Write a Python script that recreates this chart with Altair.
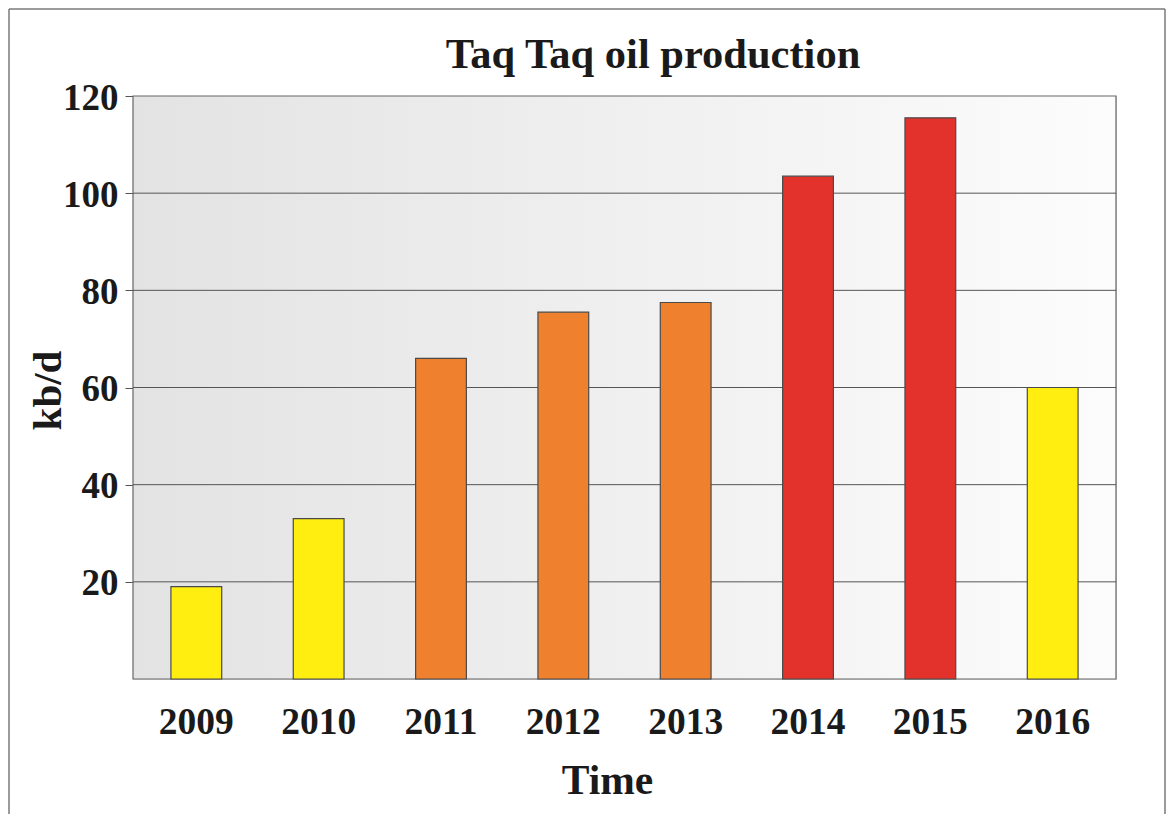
import altair as alt
import pandas as pd

years = ["2009", "2010", "2011", "2012", "2013", "2014", "2015", "2016"]
production = [19, 33, 66, 75.5, 77.5, 103.5, 115.5, 60]
tier = ["low", "low", "mid", "mid", "mid", "high", "high", "low"]
y_ticks = [20, 40, 60, 80, 100, 120]
grid_values = [20, 40, 60, 80, 100]
title_text = "Taq Taq oil production"

W, H = 983, 583
FONT = "Liberation Serif"

df = pd.DataFrame({"year": years, "kbd": production, "tier": tier})
grid_df = pd.DataFrame({"v": grid_values})

yscale = alt.Scale(domain=[0, 120], nice=False)
yaxis = alt.Axis(title="kb/d", values=y_ticks, grid=False, domain=False,
                 tickSize=8, tickColor="#555555", tickWidth=1,
                 labelFont=FONT, labelFontSize=37, labelFontWeight="bold",
                 labelColor="#1a1a1a", labelPadding=7, labelOffset=2,
                 titleFont=FONT, titleFontSize=41, titleFontWeight="bold",
                 titleColor="#1a1a1a", titleBaseline="alphabetic",
                 titleAngle=270, titleX=-73, titleY=294, titleAlign="center")

bg = alt.Chart(alt.Data(values=[{}])).mark_rect(
    color=alt.LinearGradient(
        gradient="linear",
        stops=[alt.GradientStop(color="#e4e3e3", offset=0),
               alt.GradientStop(color="#fdfcfc", offset=1)],
        x1=0, x2=1, y1=0, y2=0,
    ),
    stroke="#666666", strokeWidth=1.2,
).encode(x=alt.value(0), x2=alt.value(W), y=alt.value(0), y2=alt.value(H))

grid = alt.Chart(grid_df).mark_rule(color="#555555", strokeWidth=1).encode(
    y=alt.Y("v:Q", scale=yscale, axis=yaxis)
)

bars = alt.Chart(df).mark_bar(stroke="#4a4a4a", strokeWidth=1.2).encode(
    x=alt.X("year:N", sort=years,
            scale=alt.Scale(paddingInner=0.585, paddingOuter=0.31),
            axis=alt.Axis(title="Time", ticks=False, domain=False, labelAngle=0,
                          labelFont=FONT, labelFontSize=37.5, labelFontWeight="bold",
                          labelColor="#1a1a1a", labelPadding=24,
                          titleFont=FONT, titleFontSize=41.5, titleFontWeight="bold",
                          titleColor="#1a1a1a", titleBaseline="alphabetic",
                          titleX=474, titleY=114, titleAlign="center")),
    y=alt.Y("kbd:Q", scale=yscale, axis=yaxis),
    color=alt.Color("tier:N", legend=None,
                    scale=alt.Scale(domain=["low", "mid", "high"],
                                    range=["#ffee10", "#ee802e", "#e3322c"])),
)

title = alt.Chart(alt.Data(values=[{}])).mark_text(
    text=title_text, font=FONT, fontSize=42.5, fontWeight="bold", color="#1a1a1a",
    align="center", baseline="alphabetic",
).encode(x=alt.value(520), y=alt.value(-28))

frame_style = dict(color="#7a7a7a", strokeWidth=1.5)
frame_left = alt.Chart(alt.Data(values=[{}])).mark_rule(**frame_style).encode(
    x=alt.value(-124), y=alt.value(-87), y2=alt.value(H + 140))
frame_top = alt.Chart(alt.Data(values=[{}])).mark_rule(**frame_style).encode(
    x=alt.value(-124), x2=alt.value(1032), y=alt.value(-87))
frame_right = alt.Chart(alt.Data(values=[{}])).mark_rule(**frame_style).encode(
    x=alt.value(1032), y=alt.value(-87), y2=alt.value(H + 140))

chart = alt.layer(bg, grid, bars, title, frame_left, frame_top, frame_right).properties(
    width=W, height=H,
    autosize=alt.AutoSizeParams(type="none"),
    padding={"left": 125, "top": 88, "right": 50, "bottom": 135},
).configure_view(stroke="#666666", strokeWidth=1.2).configure(background="white")

chart.save("out.html", embed_options={"renderer": "svg", "actions": False})
